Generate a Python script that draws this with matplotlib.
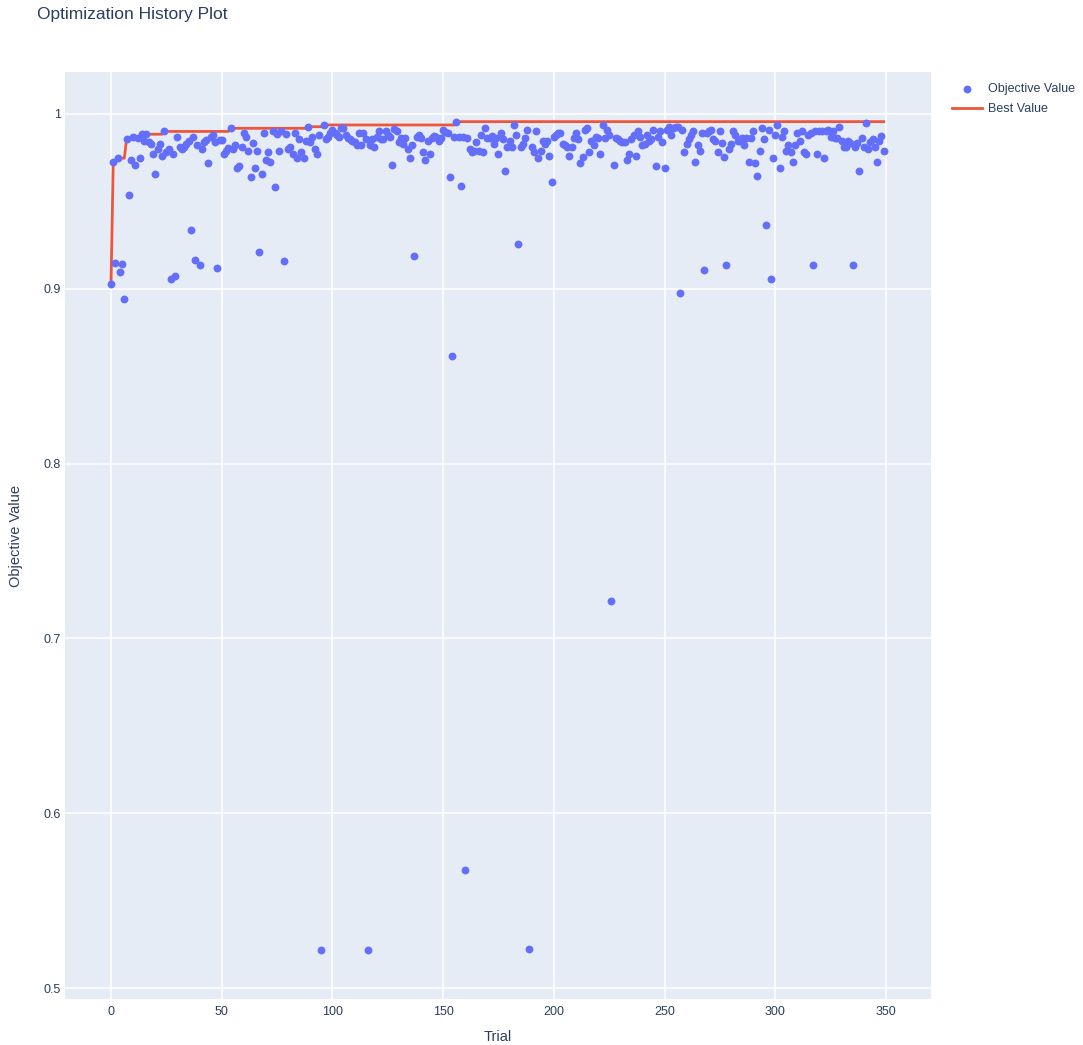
import matplotlib
matplotlib.use('Agg')
import matplotlib.pyplot as plt
import numpy as np
from matplotlib.ticker import FuncFormatter, MultipleLocator

# objective value of each trial
objective = [
    0.903, 0.9727, 0.915, 0.9747, 0.9096, 0.914, 0.894, 0.9855, 0.9537, 0.9737,
    0.9867, 0.971, 0.9865, 0.9747, 0.9884, 0.9848, 0.9884, 0.984, 0.983, 0.977,
    0.9655, 0.980, 0.9827, 0.976, 0.990, 0.978, 0.980, 0.9056, 0.977, 0.9075,
    0.987, 0.981, 0.980, 0.981, 0.983, 0.9845, 0.9336, 0.987, 0.9165, 0.982,
    0.9136, 0.980, 0.984, 0.985, 0.972, 0.987, 0.988, 0.984, 0.912, 0.985,
    0.985, 0.977, 0.9787, 0.9807, 0.9918, 0.980, 0.982, 0.969, 0.970, 0.981,
    0.989, 0.987, 0.979, 0.964, 0.9836, 0.9693, 0.979, 0.921, 0.9655, 0.989,
    0.9737, 0.978, 0.9727, 0.990, 0.958, 0.9884, 0.979, 0.990, 0.9157, 0.9884,
    0.980, 0.981, 0.977, 0.989, 0.975, 0.9855, 0.978, 0.9747, 0.9845, 0.9927,
    0.9838, 0.987, 0.980, 0.977, 0.988, 0.522, 0.9937, 0.9855, 0.987, 0.989,
    0.9908, 0.989, 0.988, 0.987, 0.9918, 0.9918, 0.988, 0.9865, 0.9855, 0.9845,
    0.9838, 0.982, 0.989, 0.982, 0.989, 0.9855, 0.522, 0.982, 0.9855, 0.981,
    0.9867, 0.990, 0.9855, 0.9855, 0.990, 0.988, 0.987, 0.971, 0.9914, 0.990,
    0.9838, 0.9865, 0.9827, 0.9865, 0.980, 0.9747, 0.982, 0.919, 0.987, 0.988,
    0.9865, 0.978, 0.9737, 0.9845, 0.977, 0.986, 0.9875, 0.987, 0.9845, 0.986,
    0.9908, 0.9895, 0.989, 0.964, 0.8616, 0.987, 0.9956, 0.987, 0.959, 0.987,
    0.5675, 0.9865, 0.980, 0.978, 0.979, 0.9838, 0.979, 0.988, 0.978, 0.9918,
    0.9865, 0.9865, 0.9875, 0.9827, 0.9865, 0.977, 0.9893, 0.9855, 0.9674, 0.981,
    0.9845, 0.981, 0.9937, 0.988, 0.9256, 0.981, 0.9827, 0.9865, 0.9908, 0.5223,
    0.981, 0.978, 0.990, 0.9747, 0.979, 0.9845, 0.9827, 0.9845, 0.976, 0.961,
    0.987, 0.988, 0.989, 0.989, 0.9827, 0.982, 0.981, 0.976, 0.981, 0.9865,
    0.989, 0.9855, 0.972, 0.9754, 0.9908, 0.9918, 0.978, 0.9845, 0.982, 0.987,
    0.9865, 0.977, 0.9937, 0.9865, 0.9908, 0.988, 0.7214, 0.971, 0.9865, 0.9855,
    0.9845, 0.9838, 0.9838, 0.9737, 0.977, 0.9855, 0.988, 0.976, 0.990, 0.987,
    0.982, 0.9827, 0.988, 0.9845, 0.9855, 0.9908, 0.970, 0.987, 0.990, 0.9838,
    0.969, 0.9908, 0.9927, 0.988, 0.9918, 0.9927, 0.9927, 0.8976, 0.9908, 0.978,
    0.9827, 0.9855, 0.988, 0.990, 0.9727, 0.982, 0.979, 0.989, 0.911, 0.989,
    0.990, 0.9908, 0.9855, 0.9845, 0.978, 0.990, 0.9836, 0.9754, 0.9138, 0.980,
    0.9827, 0.990, 0.988, 0.9845, 0.9845, 0.9865, 0.982, 0.9865, 0.9727, 0.9865,
    0.990, 0.972, 0.9645, 0.979, 0.9918, 0.9855, 0.9365, 0.9908, 0.9058, 0.9747,
    0.988, 0.9937, 0.969, 0.987, 0.990, 0.979, 0.982, 0.978, 0.9727, 0.982,
    0.989, 0.9845, 0.990, 0.978, 0.977, 0.988, 0.989, 0.9138, 0.990, 0.977,
    0.990, 0.990, 0.9747, 0.990, 0.9908, 0.987, 0.990, 0.9865, 0.9865, 0.9927,
    0.9845, 0.981, 0.981, 0.9845, 0.9836, 0.9138, 0.981, 0.9836, 0.9674, 0.9865,
    0.981, 0.9947, 0.980, 0.9838, 0.9855, 0.981, 0.9727, 0.9845, 0.9875, 0.979,
]
trials = np.arange(len(objective))
best = np.maximum.accumulate(objective)

text_color = '#2a3f5f'
plt.rcParams['font.family'] = ['Liberation Sans', 'DejaVu Sans']

fig = plt.figure(figsize=(10.83, 10.45), dpi=100)
ax = fig.add_axes([0.060, 0.044, 0.7997, 0.8871])
ax.set_facecolor('#E5ECF6')

ax.scatter(trials, objective, s=32, color='#636EFA', linewidths=0,
           label='Objective Value', zorder=3)
ax.plot(trials, best, color='#EF553B', lw=2, label='Best Value', zorder=2)

ax.set_xlim(-20.8, 370.4)
ax.set_ylim(0.4937, 1.024)
ax.xaxis.set_major_locator(MultipleLocator(50))
ax.yaxis.set_major_locator(MultipleLocator(0.1))
ax.yaxis.set_major_formatter(FuncFormatter(lambda v, p: f'{v:g}'))
ax.grid(True, color='white', lw=1.1, zorder=0)
ax.set_axisbelow(True)
for s in ax.spines.values():
    s.set_visible(False)
ax.tick_params(length=0, labelsize=9, labelcolor=text_color)
ax.tick_params(axis='x', pad=5)
ax.tick_params(axis='y', pad=3)

ax.set_xlabel('Trial', fontsize=10.5, color=text_color, va='center')
ax.set_ylabel('Objective Value', fontsize=10.5, color=text_color, va='center')
ax.xaxis.set_label_coords(0.5, -0.0405)
ax.yaxis.set_label_coords(-0.0566, 0.5)

fig.text(37 / 1083, 1 - 15 / 1045, 'Optimization History Plot', fontsize=12.5,
         color=text_color, va='center', ha='left')

leg = ax.legend(loc='upper left', bbox_to_anchor=(1.01, 1.0015), frameon=False,
                fontsize=9, handlelength=2.4, handletextpad=0.5,
                labelspacing=0.64, borderaxespad=0.6)
for t in leg.get_texts():
    t.set_color(text_color)

fig.savefig('out.png', dpi=100)
